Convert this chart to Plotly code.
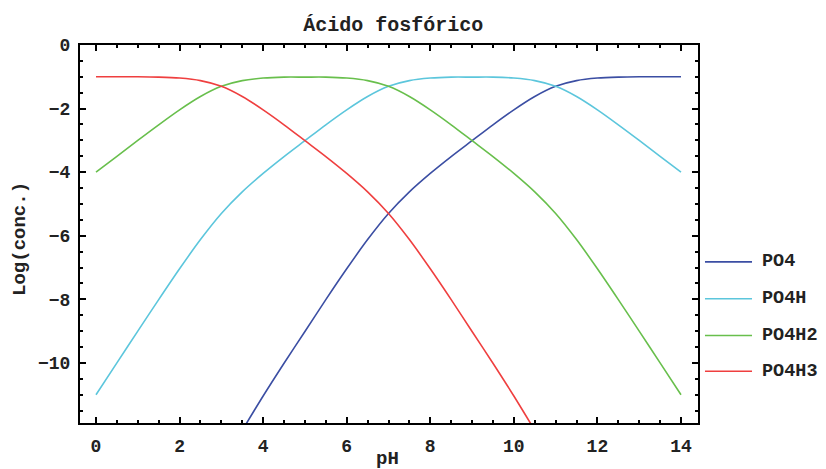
import plotly.graph_objects as go

# values (pH vs log concentration)
ph = [0, 0.5, 1, 1.5, 2, 2.5, 3, 3.5, 4, 4.5, 5, 5.5, 6, 6.5, 7,
      7.5, 8, 8.5, 9, 9.5, 10, 10.5, 11, 11.5, 12, 12.5, 13, 13.5, 14]

ph_po4 = ph[7:]  # starts below the frame
po4 = [-12.12, -11.04, -10.01, -9.01, -8.01, -7.04, -6.12, -5.30, -4.62, -4.04,
       -3.51, -3.01, -2.51, -2.04, -1.62, -1.30, -1.12, -1.04, -1.01, -1.00,
       -1.00, -1.00]

po4h = [-11.00, -10.00, -9.00, -8.01, -7.04, -6.12, -5.30, -4.62, -4.04, -3.51,
        -3.01, -2.51, -2.04, -1.62, -1.30, -1.12, -1.04, -1.01, -1.01, -1.01,
        -1.04, -1.12, -1.30, -1.62, -2.04, -2.51, -3.00, -3.50, -4.00]

po4h2 = [-4.00, -3.50, -3.00, -2.51, -2.04, -1.62, -1.30, -1.12, -1.04, -1.01,
         -1.01, -1.01, -1.04, -1.12, -1.30, -1.62, -2.04, -2.51, -3.01, -3.51,
         -4.04, -4.62, -5.30, -6.12, -7.04, -8.01, -9.00, -10.00, -11.00]

ph_po4h3 = ph[:22]  # runs out of the frame at the bottom
po4h3 = [-1.00, -1.00, -1.00, -1.01, -1.04, -1.12, -1.30, -1.62, -2.04, -2.51,
         -3.01, -3.51, -4.04, -4.62, -5.30, -6.12, -7.04, -8.01, -9.01, -10.01,
         -11.04, -12.12]

names = ["PO4", "PO4H", "PO4H2", "PO4H3"]
colors = ["#3b4ea3", "#5cc6dc", "#68bf4c", "#ef3f3f"]
series = [(ph_po4, po4), (ph, po4h), (ph, po4h2), (ph_po4h3, po4h3)]

FONT = "Liberation Mono, Courier New, monospace"
TXT = "#222"

fig = go.Figure()

for name, color, (xs, ys) in zip(names, colors, series):
    fig.add_trace(
        go.Scatter(
            x=xs,
            y=ys,
            mode="lines",
            name=name,
            line=dict(color=color, width=1.6, shape="spline", smoothing=0.8),
            showlegend=False,
        )
    )

# hand-made legend to the right, like Mathematica's
leg_y = [0.4263, 0.3289, 0.2316, 0.1368]
for name, color, yy in zip(names, colors, leg_y):
    fig.add_shape(type="line", xref="paper", yref="paper",
                  x0=1.0113, x1=1.0874, y0=yy, y1=yy,
                  line=dict(color=color, width=1.6))
    fig.add_annotation(text=name, xref="paper", yref="paper", x=1.1003, y=yy,
                       xanchor="left", yanchor="middle", showarrow=False,
                       font=dict(family=FONT, size=18.5, color=TXT, weight="bold"))

fig.add_annotation(text="pH", xref="paper", yref="paper", x=0.497, y=-0.095,
                   xanchor="center", yanchor="middle", showarrow=False,
                   font=dict(family=FONT, size=19, color=TXT, weight="bold"))
fig.add_annotation(text="Log(conc.)", xref="paper", yref="paper", x=-0.097, y=0.487,
                   xanchor="center", yanchor="middle", showarrow=False, textangle=-90,
                   font=dict(family=FONT, size=19, color=TXT, weight="bold"))

axis_common = dict(
    showgrid=False,
    zeroline=False,
    showline=True,
    linecolor="black",
    linewidth=2,
    mirror="ticks",
    ticks="inside",
    ticklen=6,
    tickwidth=1.5,
    tickcolor="black",
    tickfont=dict(family=FONT, size=18, color=TXT, weight="bold"),
)

# page body adds ~8px offset, so the figure is a bit smaller than the window
fig.update_layout(
    width=818,
    height=461,
    margin=dict(l=72, r=128, t=37, b=44),
    paper_bgcolor="white",
    plot_bgcolor="white",
    title=dict(text="Ácido fosfórico", x=0.471, xanchor="center", y=0.965,
               yanchor="middle",
               font=dict(family=FONT, size=20, color=TXT, weight="bold")),
    xaxis=dict(range=[-0.383, 14.407], tickvals=[0, 2, 4, 6, 8, 10, 12, 14],
               minor=dict(dtick=0.5, ticks="inside", ticklen=3, tickcolor="black"),
               ticklabelstandoff=5, **axis_common),
    yaxis=dict(range=[-11.89, 0], tickvals=[0, -2, -4, -6, -8, -10],
               minor=dict(dtick=0.5, ticks="inside", ticklen=3, tickcolor="black"),
               ticklabelstandoff=4, **axis_common),
)

fig.write_html("out.html")
